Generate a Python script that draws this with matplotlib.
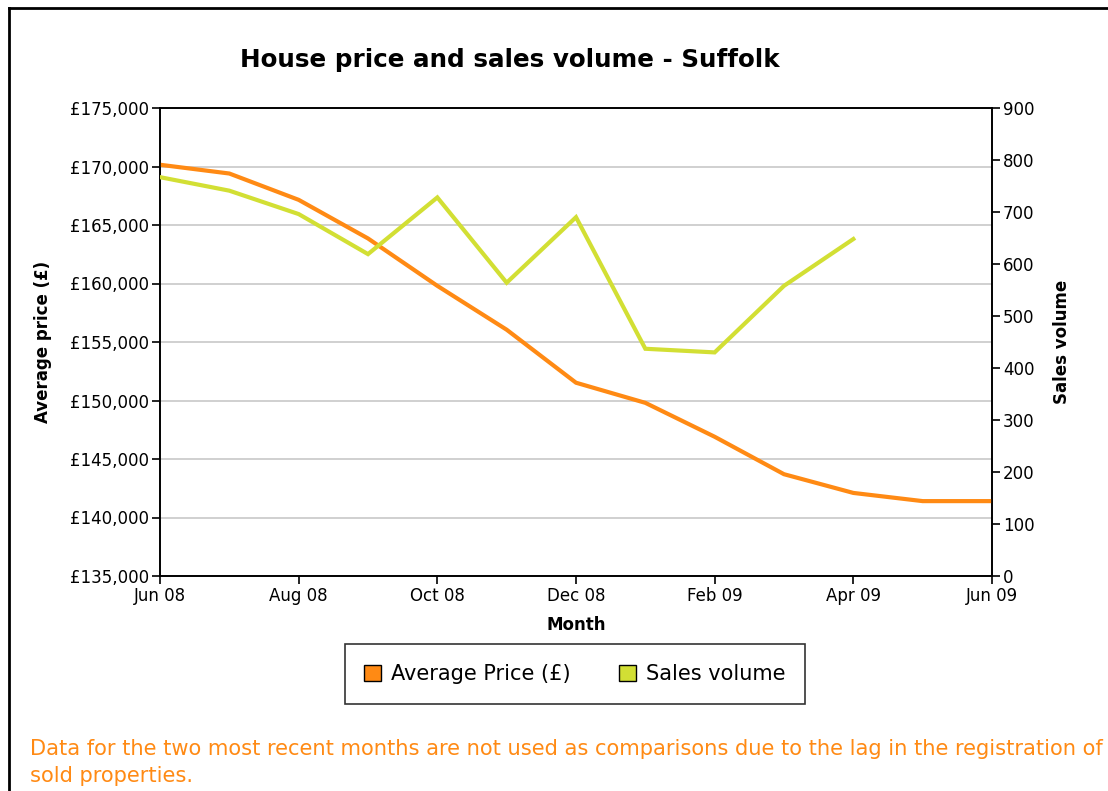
import matplotlib
matplotlib.use("Agg")
import matplotlib.pyplot as plt
from matplotlib.lines import Line2D
from matplotlib.patches import Rectangle
from matplotlib.ticker import FuncFormatter, MultipleLocator

months = ["Jun 08", "Jul 08", "Aug 08", "Sep 08", "Oct 08", "Nov 08", "Dec 08",
          "Jan 09", "Feb 09", "Mar 09", "Apr 09", "May 09", "Jun 09"]
avg_price = [170150, 169400, 167150, 163850, 159800, 156050, 151520,
             149800, 146900, 143700, 142100, 141400, 141400]
sales_volume = [767, 741, 696, 619, 728, 564, 690, 437, 430, 558, 648]
tick_labels = ["Jun 08", "Aug 08", "Oct 08", "Dec 08", "Feb 09", "Apr 09", "Jun 09"]

orange = "#FF8A14"
lime = "#D2DF34"
font = "DejaVu Sans"
tick_size = 12

W, H = 1108, 791
fig = plt.figure(figsize=(W / 100, H / 100), dpi=100)

# frame border (cropped on right and bottom)
fig.add_artist(Line2D([9 / W, 9 / W], [0, 1 - 8 / H], transform=fig.transFigure,
                      color="black", lw=2))
fig.add_artist(Line2D([9 / W, 1], [1 - 8 / H, 1 - 8 / H], transform=fig.transFigure,
                      color="black", lw=2))

ax = fig.add_axes([160 / W, 1 - 576 / H, (992 - 160) / W, (576 - 108) / H])
x = list(range(len(months)))
ax.plot(x, avg_price, color=orange, lw=3, solid_joinstyle="miter", zorder=3)
ax.set_xlim(0, len(months) - 1)
ax.set_ylim(135000, 175000)
ax.yaxis.set_major_locator(MultipleLocator(5000))
ax.yaxis.set_major_formatter(FuncFormatter(lambda v, p: "£{:,.0f}".format(v)))
ax.set_xticks(x[::2])
ax.set_xticklabels(tick_labels)
ax.grid(axis="y", color="#C8C8C8", lw=1.2)
ax.set_axisbelow(True)
for s in ax.spines.values():
    s.set_color("black")
    s.set_linewidth(1.2)
ax.tick_params(axis="both", length=6, width=1.2, labelsize=tick_size, pad=2)
for lab in ax.get_xticklabels() + ax.get_yticklabels():
    lab.set_family(font)
ax.set_ylabel("Average price (£)", family=font, fontweight="bold", fontsize=12, labelpad=13)
ax.set_xlabel("Month", family=font, fontweight="bold", fontsize=12, labelpad=8)

ax2 = ax.twinx()
ax2.plot(x[:len(sales_volume)], sales_volume, color=lime, lw=3, solid_joinstyle="miter", zorder=3)
ax2.set_ylim(0, 900)
ax2.yaxis.set_major_locator(MultipleLocator(100))
ax2.tick_params(axis="y", length=6, width=1.2, labelsize=tick_size, pad=2)
for lab in ax2.get_yticklabels():
    lab.set_family(font)
for s in ax2.spines.values():
    s.set_color("black")
    s.set_linewidth(1.2)
ax2.set_ylabel("Sales volume", family=font, fontweight="bold", fontsize=12, labelpad=13)

fig.text(510 / W, 1 - 60 / H, "House price and sales volume - Suffolk", ha="center", va="center",
         family=font, fontweight="bold", fontsize=17.7)

# legend
handles = [Rectangle((0, 0), 1, 1, facecolor=orange, edgecolor="black", lw=1),
           Rectangle((0, 0), 1, 1, facecolor=lime, edgecolor="black", lw=1)]
leg = fig.legend(handles, ["Average Price (£)", "Sales volume"], loc="center",
                 bbox_to_anchor=(575 / W, 1 - 674 / H), ncol=2, frameon=True, fancybox=False,
                 edgecolor="black", handlelength=0.8, handleheight=0.8,
                 handletextpad=0.5, columnspacing=2.3, borderpad=0.95, borderaxespad=0,
                 prop={"family": font, "size": 15})
leg.get_frame().set_linewidth(1.2)

fig.text(30 / W, 1 - 749 / H,
         "Data for the two most recent months are not used as comparisons due to the lag in the registration of",
         ha="left", va="center", color=orange, fontsize=15.1, family=font)
fig.text(30 / W, 1 - 776 / H, "sold properties.",
         ha="left", va="center", color=orange, fontsize=15.1, family=font)

fig.savefig("out.png", dpi=100)
